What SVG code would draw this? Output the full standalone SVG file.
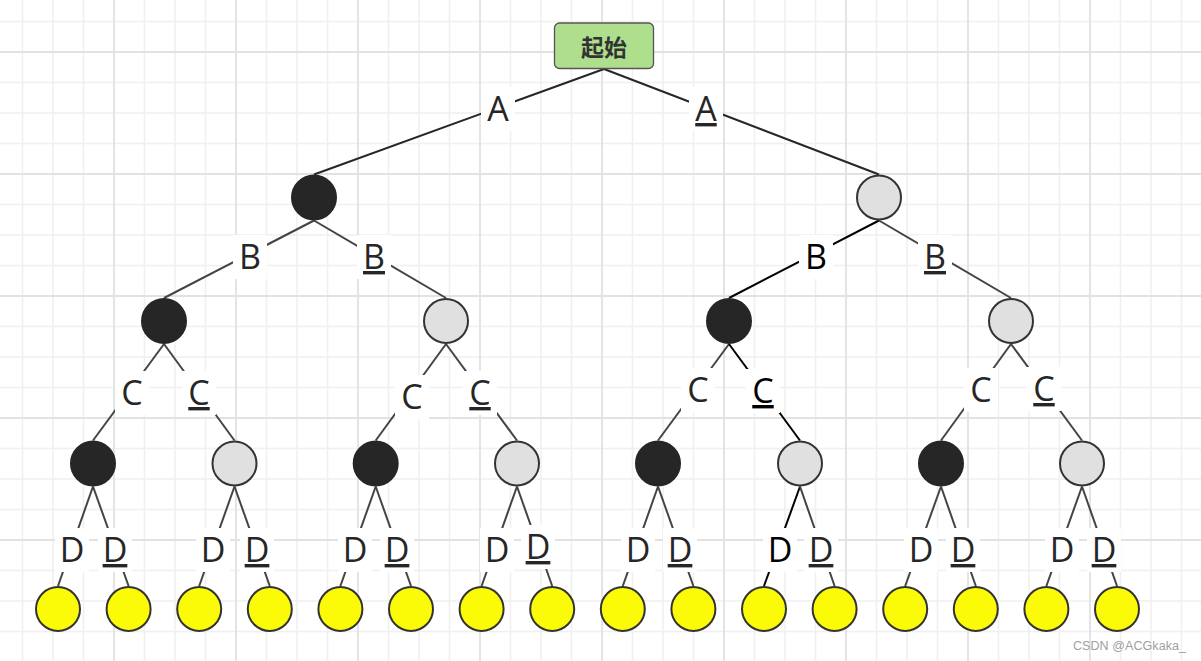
<svg xmlns="http://www.w3.org/2000/svg" width="1201" height="661" viewBox="0 0 1201 661">
<style>
.minor{stroke:#f0f0f0;stroke-width:1.6;fill:none}
.major{stroke:#e2e2e2;stroke-width:1.8;fill:none}
.e{stroke:#444;stroke-width:2;fill:none}
.e0{stroke:#262626;stroke-width:2;fill:none}
.ek{stroke:#000;stroke-width:2;fill:none}
.lb{fill:#fff}
.lt{font-family:"Open Sans","Noto Sans","Liberation Sans",sans-serif;font-size:34px;fill:#262626;text-anchor:middle}
.u{text-decoration:underline}
.blk{fill:#262626;stroke:#262626;stroke-width:2}
.gry{fill:#e0e0e0;stroke:#333;stroke-width:2}
.yel{fill:#fbfb08;stroke:#333;stroke-width:2}
</style>
<rect x="0" y="0" width="1201" height="661" fill="#fff"/>
<g id="grid">
<path class="minor" d="M22.5 0V661M53 0V661M83.5 0V661M144.5 0V661M175 0V661M205.5 0V661M266.5 0V661M297 0V661M327.5 0V661M388.5 0V661M419 0V661M449.5 0V661M510.5 0V661M541 0V661M571.5 0V661M632.5 0V661M663 0V661M693.5 0V661M754.5 0V661M785 0V661M815.5 0V661M876.5 0V661M907 0V661M937.5 0V661M998.5 0V661M1029 0V661M1059.5 0V661M1120.5 0V661M1151 0V661M1181.5 0V661"/>
<path class="minor" d="M0 21.5H1201M0 82.5H1201M0 113H1201M0 143.5H1201M0 204.5H1201M0 235H1201M0 265.5H1201M0 326.5H1201M0 357H1201M0 387.5H1201M0 448.5H1201M0 479H1201M0 509.5H1201M0 570.5H1201M0 601H1201M0 631.5H1201"/>
<path class="major" d="M114 0V661M236 0V661M358 0V661M480 0V661M602 0V661M724 0V661M846 0V661M968 0V661M1090 0V661"/>
<path class="major" d="M0 52H1201M0 174H1201M0 296H1201M0 418H1201M0 540H1201"/>
</g>
<g id="connectors">
<g><path class="e0" d="M604 69L314 174.5"/><rect class="lb" x="481" y="87" width="34" height="44"/><text class="lt" x="498" y="121">A</text></g>
<g><path class="e0" d="M604 69L879 174.5"/><rect class="lb" x="689" y="87" width="34" height="44"/><text class="lt u" x="706" y="121">A</text></g>

<g><path class="e" d="M314 220.5L164 298"/><rect class="lb" x="233" y="235" width="34" height="44"/><text class="lt" x="250" y="269">B</text></g>
<g><path class="e" d="M314 220.5L446 298"/><rect class="lb" x="357" y="235" width="34" height="44"/><text class="lt u" x="374" y="269">B</text></g>
<g><path class="ek" d="M879 220.5L729 298"/><rect class="lb" x="799" y="235" width="34" height="44"/><text class="lt" x="816" y="269" fill="#000" style="fill:#000">B</text></g>
<g><path class="e" d="M879 220.5L1011 298"/><rect class="lb" x="918" y="235" width="34" height="44"/><text class="lt u" x="935" y="269">B</text></g>

<g><path class="e" d="M164 344L93 440.5"/><rect class="lb" x="115" y="371" width="34" height="44"/><text class="lt" x="132" y="405">C</text></g>
<g><path class="e" d="M164 344L234.5 440.5"/><rect class="lb" x="182" y="371" width="34" height="44"/><text class="lt u" x="199" y="405">C</text></g>
<g><path class="e" d="M446 344L375.7 440.5"/><rect class="lb" x="395" y="375" width="34" height="44"/><text class="lt" x="412" y="409">C</text></g>
<g><path class="e" d="M446 344L517 440.5"/><rect class="lb" x="463" y="371" width="34" height="44"/><text class="lt u" x="480" y="405">C</text></g>
<g><path class="e" d="M729 344L658 440.5"/><rect class="lb" x="681" y="368" width="34" height="44"/><text class="lt" x="698" y="402">C</text></g>
<g><path class="ek" d="M729 344L800 440.5"/><rect class="lb" x="746" y="369" width="34" height="44"/><text class="lt u" x="763" y="403" style="fill:#000">C</text></g>
<g><path class="e" d="M1011 344L941 440.5"/><rect class="lb" x="964" y="368" width="34" height="44"/><text class="lt" x="981" y="402">C</text></g>
<g><path class="e" d="M1011 344L1082 440.5"/><rect class="lb" x="1027" y="367" width="34" height="44"/><text class="lt u" x="1044" y="401">C</text></g>

<g><path class="e" d="M93 486.5L58 586"/><rect class="lb" x="55" y="528" width="34" height="44"/><text class="lt" x="72" y="562">D</text></g>
<g><path class="e" d="M93 486.5L128.6 586"/><rect class="lb" x="98" y="528" width="34" height="44"/><text class="lt u" x="115" y="562">D</text></g>
<g><path class="e" d="M234.5 486.5L199.2 586"/><rect class="lb" x="196" y="528" width="34" height="44"/><text class="lt" x="213" y="562">D</text></g>
<g><path class="e" d="M234.5 486.5L269.8 586"/><rect class="lb" x="240" y="528" width="34" height="44"/><text class="lt u" x="257" y="562">D</text></g>
<g><path class="e" d="M375.7 486.5L340.4 586"/><rect class="lb" x="338" y="528" width="34" height="44"/><text class="lt" x="355" y="562">D</text></g>
<g><path class="e" d="M375.7 486.5L411 586"/><rect class="lb" x="380" y="528" width="34" height="44"/><text class="lt u" x="397" y="562">D</text></g>
<g><path class="e" d="M517 486.5L481.6 586"/><rect class="lb" x="480" y="528" width="34" height="44"/><text class="lt" x="497" y="562">D</text></g>
<g><path class="e" d="M517 486.5L552.2 586"/><rect class="lb" x="521" y="525" width="34" height="44"/><text class="lt u" x="538" y="559">D</text></g>
<g><path class="e" d="M658 486.5L622.8 586"/><rect class="lb" x="621" y="528" width="34" height="44"/><text class="lt" x="638" y="562">D</text></g>
<g><path class="e" d="M658 486.5L693.4 586"/><rect class="lb" x="663" y="528" width="34" height="44"/><text class="lt u" x="680" y="562">D</text></g>
<g><path class="ek" d="M800 486.5L764 586"/><rect class="lb" x="763" y="528" width="34" height="44"/><text class="lt" x="780" y="562" style="fill:#000">D</text></g>
<g><path class="e" d="M800 486.5L834.6 586"/><rect class="lb" x="804" y="528" width="34" height="44"/><text class="lt u" x="821" y="562">D</text></g>
<g><path class="e" d="M941 486.5L905.2 586"/><rect class="lb" x="904" y="528" width="34" height="44"/><text class="lt" x="921" y="562">D</text></g>
<g><path class="e" d="M941 486.5L975.8 586"/><rect class="lb" x="946" y="528" width="34" height="44"/><text class="lt u" x="963" y="562">D</text></g>
<g><path class="e" d="M1082 486.5L1046.4 586"/><rect class="lb" x="1045" y="528" width="34" height="44"/><text class="lt" x="1062" y="562">D</text></g>
<g><path class="e" d="M1082 486.5L1117 586"/><rect class="lb" x="1087" y="528" width="34" height="44"/><text class="lt u" x="1104" y="562">D</text></g>
</g>
<g id="root"><rect x="554.5" y="23" width="99" height="45.5" rx="5" fill="#addf8d" stroke="#555" stroke-width="1.3"/><text x="604" y="46" dominant-baseline="central" text-anchor="middle" font-family="Noto Sans CJK SC, sans-serif" font-weight="bold" font-size="23" fill="#333">起始</text></g>
<g id="n1a"><circle class="blk" cx="314" cy="197.5" r="22"/></g>
<g id="n1b"><circle class="gry" cx="879" cy="197.5" r="22"/></g>
<g id="n2a"><circle class="blk" cx="164" cy="321" r="22"/></g>
<g id="n2b"><circle class="gry" cx="446" cy="321" r="22"/></g>
<g id="n2c"><circle class="blk" cx="729" cy="321" r="22"/></g>
<g id="n2d"><circle class="gry" cx="1011" cy="321" r="22"/></g>
<g id="n3a"><circle class="blk" cx="93" cy="463.5" r="22"/></g>
<g id="n3b"><circle class="gry" cx="234.5" cy="463.5" r="22"/></g>
<g id="n3c"><circle class="blk" cx="375.7" cy="463.5" r="22"/></g>
<g id="n3d"><circle class="gry" cx="517" cy="463.5" r="22"/></g>
<g id="n3e"><circle class="blk" cx="658" cy="463.5" r="22"/></g>
<g id="n3f"><circle class="gry" cx="800" cy="463.5" r="22"/></g>
<g id="n3g"><circle class="blk" cx="941" cy="463.5" r="22"/></g>
<g id="n3h"><circle class="gry" cx="1082" cy="463.5" r="22"/></g>
<g id="leaf1"><circle class="yel" cx="58" cy="609" r="22"/></g>
<g id="leaf2"><circle class="yel" cx="128.6" cy="609" r="22"/></g>
<g id="leaf3"><circle class="yel" cx="199.2" cy="609" r="22"/></g>
<g id="leaf4"><circle class="yel" cx="269.8" cy="609" r="22"/></g>
<g id="leaf5"><circle class="yel" cx="340.4" cy="609" r="22"/></g>
<g id="leaf6"><circle class="yel" cx="411" cy="609" r="22"/></g>
<g id="leaf7"><circle class="yel" cx="481.6" cy="609" r="22"/></g>
<g id="leaf8"><circle class="yel" cx="552.2" cy="609" r="22"/></g>
<g id="leaf9"><circle class="yel" cx="622.8" cy="609" r="22"/></g>
<g id="leaf10"><circle class="yel" cx="693.4" cy="609" r="22"/></g>
<g id="leaf11"><circle class="yel" cx="764" cy="609" r="22"/></g>
<g id="leaf12"><circle class="yel" cx="834.6" cy="609" r="22"/></g>
<g id="leaf13"><circle class="yel" cx="905.2" cy="609" r="22"/></g>
<g id="leaf14"><circle class="yel" cx="975.8" cy="609" r="22"/></g>
<g id="leaf15"><circle class="yel" cx="1046.4" cy="609" r="22"/></g>
<g id="leaf16"><circle class="yel" cx="1117" cy="609" r="22"/></g>
<text x="1073" y="649.5" font-family="Liberation Sans, Arial, sans-serif" font-size="12.5" fill="#a0a0a0" textLength="113">CSDN @ACGkaka_</text>
</svg>
